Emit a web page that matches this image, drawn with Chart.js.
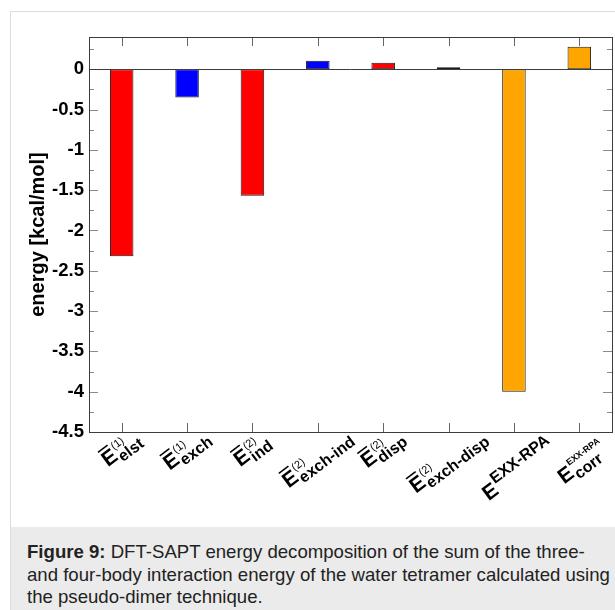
<!DOCTYPE html>
<html>
<head>
<meta charset="utf-8">
<script src="https://cdn.jsdelivr.net/npm/chart.js@4"></script>
<style>
  html, body { margin: 0; padding: 0; background: #fff; overflow: hidden; }
  body { width: 615px; height: 610px; position: relative; font-family: Arial, "Liberation Sans", sans-serif; }
  .figure { position: absolute; left: 10px; top: 11px; width: 640px; border-top: 1px solid #dcdcdc; border-left: 1px solid #dcdcdc; }
  .plot { position: relative; width: 604px; height: 515px; }
  .caption { background: #ebebeb; padding: 14px 0 0 16px; height: 90px; font-size: 18.6px; line-height: 22.5px; color: #222; white-space: nowrap; }
</style>
</head>
<body>
<div class="figure">
  <div class="plot"><canvas id="chart"></canvas></div>
  <div class="caption"><b>Figure 9:</b> DFT-SAPT energy decomposition of the sum of the three-<br>and four-body interaction energy of the water tetramer calculated using<br>the pseudo-dimer technique.</div>
</div>
<script>
// terms of the decomposition
const categories = ['E(1) elst', 'E(1) exch', 'E(2) ind', 'E(2) exch-ind', 'E(2) disp', 'E(2) exch-disp', 'E EXX-RPA', 'E corr EXX-RPA'];
const energies = [-2.32, -0.35, -1.57, 0.105, 0.08, 0.025, -4.0, 0.28];
const barColors = ['#ff0000', '#0000ff', '#ff0000', '#0000ff', '#ff0000', '#0000ff', '#ffa500', '#ffa500'];

// label pieces: superscript, subscript, overbar on E
const labelSup = ['(1)', '(1)', '(2)', '(2)', '(2)', '(2)', 'EXX-RPA', 'EXX-RPA'];
const labelSub = ['elst', 'exch', 'ind', 'exch-ind', 'disp', 'exch-disp', '', 'corr'];
const labelBar = [true, true, true, true, true, true, false, false];

const yMin = -4.5;
const yMax = 0.4;
const yStep = 0.25;

const FONT = 'Arial, "Liberation Sans", sans-serif';

function drawLabel(ctx, i, cx, top) {
  const ang = 37 * Math.PI / 180;
  const eFont = 'bold 21px ' + FONT;
  const bigSup = labelSub[i] === '';
  let supFont = '11px ' + FONT;
  let supY = -10;
  if (bigSup) { supFont = 'bold 16px ' + FONT; supY = -10; }
  else if (!labelBar[i]) { supFont = 'bold 9px ' + FONT; supY = -12; }
  const subFont = 'bold 16px ' + FONT;

  ctx.font = eFont;
  const ew = ctx.measureText('E').width;
  ctx.font = supFont;
  const sw = ctx.measureText(labelSup[i]).width;
  ctx.font = subFont;
  const bw = labelSub[i] ? ctx.measureText(labelSub[i]).width : 0;
  const x0 = ew + 1;

  // rough glyph outline points, used to place the rotated label
  const pts = [[0, -19], [ew, -19], [0, 0], [x0 + sw, supY - 9], [x0 + sw, supY]];
  if (bw) pts.push([x0 + bw, -6], [x0 + bw, 8], [x0, 8]);

  const c = Math.cos(ang), s = Math.sin(ang);
  const xs = pts.map(p => p[0] * c + p[1] * s);
  const ys = pts.map(p => -p[0] * s + p[1] * c);
  const ox = cx - (Math.min(...xs) + Math.max(...xs)) / 2;
  const oy = top - Math.min(...ys);

  ctx.save();
  ctx.translate(ox, oy);
  ctx.rotate(-ang);
  ctx.fillStyle = '#000';
  ctx.textBaseline = 'alphabetic';
  ctx.textAlign = 'left';
  ctx.font = eFont;
  ctx.fillText('E', 0, 0);
  if (labelBar[i]) {
    ctx.strokeStyle = '#000';
    ctx.lineWidth = 1.5;
    ctx.beginPath();
    ctx.moveTo(1, -18);
    ctx.lineTo(ew - 1, -18);
    ctx.stroke();
  }
  ctx.font = supFont;
  ctx.fillText(labelSup[i], x0, supY);
  if (labelSub[i]) {
    ctx.font = subFont;
    ctx.fillText(labelSub[i], x0, 5);
  }
  ctx.restore();
}

const framePlugin = {
  id: 'frame',
  afterDatasetsDraw(chart) {
    const ctx = chart.ctx;
    const a = chart.chartArea;
    const x = chart.scales.x;
    const y = chart.scales.y;
    ctx.save();
    ctx.lineWidth = 1;

    // inside ticks on y
    ctx.strokeStyle = '#8a8a8a';
    y.ticks.forEach(tk => {
      const py = Math.round(y.getPixelForValue(tk.value)) + 0.5;
      const major = Math.abs(tk.value * 2 - Math.round(tk.value * 2)) < 1e-6;
      const len = major ? 9 : 5;
      ctx.beginPath();
      ctx.moveTo(a.left, py); ctx.lineTo(a.left + len, py);
      ctx.moveTo(a.right, py); ctx.lineTo(a.right - len, py);
      ctx.stroke();
    });

    // inside ticks on x, top and bottom
    ctx.strokeStyle = '#666';
    categories.forEach((c, i) => {
      const px = Math.round(x.getPixelForValue(i)) + 0.5;
      ctx.beginPath();
      ctx.moveTo(px, a.top); ctx.lineTo(px, a.top + 9);
      ctx.moveTo(px, a.bottom); ctx.lineTo(px, a.bottom - 9);
      ctx.stroke();
    });

    // zero line and frame
    ctx.strokeStyle = '#3c3c3c';
    const zy = Math.round(y.getPixelForValue(0)) + 0.5;
    ctx.beginPath();
    ctx.moveTo(a.left, zy); ctx.lineTo(a.right, zy);
    ctx.stroke();
    ctx.strokeRect(Math.round(a.left) + 0.5, Math.round(a.top) + 0.5, Math.round(a.right - a.left), Math.round(a.bottom - a.top));
    ctx.restore();
  },
  afterDraw(chart) {
    const ctx = chart.ctx;
    const x = chart.scales.x;
    categories.forEach((c, i) => {
      drawLabel(ctx, i, x.getPixelForValue(i), chart.chartArea.bottom + 3);
    });
  }
};

new Chart(document.getElementById('chart'), {
  type: 'bar',
  data: {
    labels: categories,
    datasets: [{
      label: 'energy',
      data: energies,
      backgroundColor: barColors,
      borderColor: '#1a1a1a',
      borderWidth: 1,
      borderSkipped: false,
      categoryPercentage: 1,
      barPercentage: 0.36
    }]
  },
  options: {
    responsive: true,
    maintainAspectRatio: false,
    animation: false,
    layout: { padding: { top: 25, right: 3, bottom: 95, left: 0 } },
    plugins: {
      legend: { display: false },
      tooltip: { enabled: false }
    },
    scales: {
      x: {
        display: false
      },
      y: {
        min: yMin,
        max: yMax,
        grid: { display: false, drawTicks: false },
        border: { display: false },
        afterFit: (scale) => { scale.width = 78; },
        ticks: {
          stepSize: yStep,
          includeBounds: false,
          autoSkip: false,
          padding: 5,
          color: '#000',
          font: { family: FONT, size: 18.5, weight: 'bold' },
          callback: (v) => {
            if (Math.abs(v * 2 - Math.round(v * 2)) > 1e-6) return '';
            return String(Math.round(v * 2) / 2);
          }
        },
        title: {
          display: true,
          text: 'energy [kcal/mol]',
          color: '#000',
          padding: { top: 15, bottom: 0 },
          font: { family: FONT, size: 20, weight: 'bold' }
        }
      }
    }
  },
  plugins: [framePlugin]
});
</script>
</body>
</html>
